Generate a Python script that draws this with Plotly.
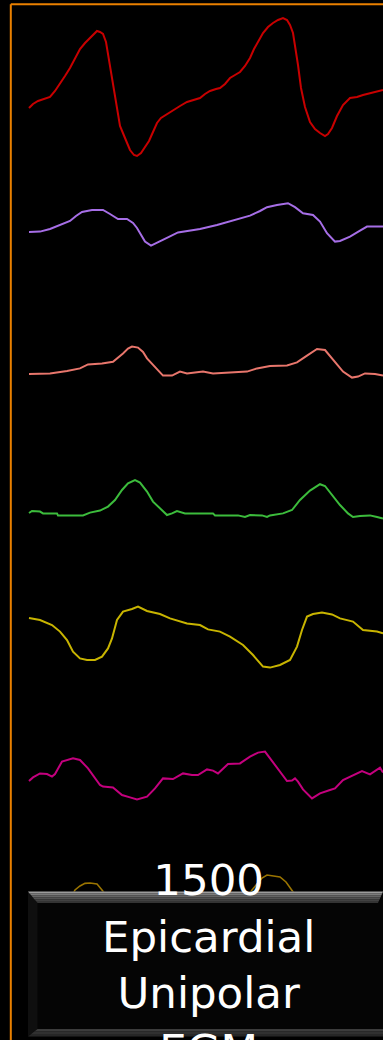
import plotly.graph_objects as go

# Epicardial unipolar electrograms: seven channels, time in ms, amplitude in mV
ch1_t = [0, 8, 18, 28, 42, 52, 62, 72, 82, 92, 102, 112, 122, 130, 136, 142, 148, 154, 162, 172,
         182, 192, 202, 210, 216, 224, 232, 240, 248, 256, 264, 276, 288, 302, 316, 330, 342, 352,
         362, 374, 382, 392, 402, 412, 422, 432, 442, 450, 458, 468, 478, 488, 498, 508, 516, 522,
         528, 534, 538, 544, 552, 562, 572, 582, 592, 598, 606, 616, 628, 642, 656, 668, 682, 696, 708]
ch1_v = [0, 0.2, 0.35, 0.45, 0.55, 0.85, 1.2, 1.6, 2.0, 2.45, 2.95, 3.25, 3.5, 3.75, 3.85, 3.8, 3.7,
         3.3, 2.05, 0.55, -0.9, -1.5, -2.1, -2.35, -2.4, -2.25, -1.95, -1.65, -1.2, -0.75, -0.5, -0.3,
         -0.1, 0.1, 0.3, 0.4, 0.5, 0.7, 0.85, 0.95, 1.0, 1.2, 1.5, 1.65, 1.8, 2.1, 2.5, 2.95, 3.3,
         3.75, 4.05, 4.25, 4.4, 4.5, 4.4, 4.15, 3.75, 2.9, 2.15, 1.0, 0.05, -0.7, -1.05, -1.25, -1.4,
         -1.3, -1.0, -0.4, 0.15, 0.5, 0.55, 0.65, 0.75, 0.85, 0.9]

ch2_t = [0, 22, 42, 62, 82, 94, 106, 126, 148, 162, 178, 196, 208, 216, 224, 232, 244, 262, 282,
         298, 322, 342, 376, 408, 442, 462, 476, 496, 518, 532, 548, 568, 582, 596, 612, 622, 642,
         662, 676, 708]
ch2_v = [0, 0.02, 0.15, 0.35, 0.55, 0.8, 1.0, 1.1, 1.1, 0.9, 0.65, 0.65, 0.45, 0.2, -0.15, -0.48,
         -0.68, -0.48, -0.22, -0.02, 0.07, 0.15, 0.35, 0.57, 0.82, 1.05, 1.24, 1.35, 1.44, 1.24,
         0.94, 0.85, 0.52, -0.06, -0.48, -0.45, -0.23, 0.07, 0.27, 0.27]

ch3_t = [0, 42, 76, 102, 118, 146, 168, 178, 188, 198, 206, 218, 228, 236, 246, 256, 268, 286,
         302, 316, 348, 368, 402, 436, 456, 482, 516, 536, 556, 566, 576, 592, 608, 618, 628, 646,
         658, 672, 692, 708]
ch3_v = [0, 0.03, 0.15, 0.28, 0.48, 0.53, 0.61, 0.8, 1.03, 1.27, 1.37, 1.32, 1.1, 0.78, 0.5, 0.25,
         -0.08, -0.08, 0.12, 0.03, 0.12, 0.03, 0.08, 0.12, 0.28, 0.4, 0.43, 0.58, 0.92, 1.1, 1.25,
         1.2, 0.7, 0.4, 0.12, -0.18, -0.13, 0.03, 0, -0.08]

ch4_t = [0, 6, 22, 28, 56, 58, 108, 122, 142, 158, 172, 186, 198, 212, 222, 236, 248, 262, 276,
         286, 296, 312, 368, 372, 418, 432, 442, 466, 476, 482, 508, 526, 542, 562, 582, 592, 606,
         622, 638, 648, 662, 682, 696, 708]
ch4_v = [0, 0.1, 0.07, -0.02, -0.02, -0.12, -0.12, 0.02, 0.12, 0.32, 0.65, 1.15, 1.48, 1.64, 1.52,
         1.07, 0.57, 0.24, -0.1, -0.02, 0.1, -0.02, -0.02, -0.12, -0.12, -0.2, -0.1, -0.12, -0.2,
         -0.12, -0.02, 0.15, 0.65, 1.12, 1.44, 1.35, 0.9, 0.4, -0.02, -0.2, -0.15, -0.12, -0.2, -0.28]

ch5_t = [0, 22, 46, 62, 76, 88, 102, 116, 132, 146, 158, 166, 176, 188, 206, 218, 236, 262, 282,
         316, 342, 358, 382, 402, 428, 448, 468, 482, 502, 522, 536, 546, 556, 568, 586, 606, 622,
         648, 668, 696, 708]
ch5_v = [0, -0.1, -0.35, -0.68, -1.1, -1.68, -2.02, -2.1, -2.1, -1.93, -1.52, -1.02, -0.1, 0.32,
         0.45, 0.57, 0.35, 0.2, -0.02, -0.27, -0.35, -0.57, -0.68, -0.93, -1.35, -1.85, -2.43,
         -2.48, -2.35, -2.1, -1.43, -0.6, 0.07, 0.2, 0.28, 0.18, -0.02, -0.18, -0.6, -0.68, -0.77]

ch6_t = [0, 8, 22, 36, 46, 52, 66, 88, 102, 118, 142, 148, 168, 186, 202, 216, 236, 252, 268, 288,
         308, 326, 338, 356, 368, 378, 398, 422, 442, 458, 472, 482, 498, 516, 526, 532, 538, 548,
         566, 582, 602, 612, 628, 648, 666, 682, 702, 708]
ch6_v = [0, 0.18, 0.38, 0.35, 0.22, 0.35, 0.97, 1.13, 1.05, 0.63, -0.2, -0.28, -0.32, -0.7, -0.82,
         -0.92, -0.78, -0.37, 0.13, 0.1, 0.38, 0.3, 0.3, 0.58, 0.52, 0.38, 0.85, 0.88, 1.22, 1.42,
         1.47, 1.13, 0.55, 0, 0.02, 0.13, -0.03, -0.42, -0.87, -0.62, -0.45, -0.37, 0.05, 0.3, 0.5,
         0.33, 0.67, 0.42]

ch7_t = [0, 40, 80, 92, 102, 112, 122, 136, 146, 158, 200, 300, 400, 438, 446, 456, 466, 476, 488,
         502, 514, 524, 534, 600, 708]
ch7_v = [-0.4, -0.3, -0.1, 0.5, 0.7, 0.83, 0.85, 0.8, 0.5, 0.1, -0.4, -0.6, -0.5, 0.2, 0.5, 0.8,
         1.1, 1.25, 1.22, 1.15, 0.9, 0.55, 0.2, -0.5, -0.3]

channels = [
    (ch1_t, ch1_v), (ch2_t, ch2_v), (ch3_t, ch3_v), (ch4_t, ch4_v),
    (ch5_t, ch5_v), (ch6_t, ch6_v), (ch7_t, ch7_v),
]

# vertical placement of each channel's baseline (mV) and its colour
offsets = [-5.4, -11.6, -18.7, -25.65, -30.9, -39.05, -45.0]
colors = ["#c80000", "#a66ee6", "#e8766c", "#3cbc3c", "#c8b400", "#c4007e", "#9a7400"]
widths = [2, 2, 2, 2, 2, 2, 1.6]

caption = "1500<br>Epicardial<br>Unipolar<br>EGM"

W, H = 383, 1040


def px(x):
    return x / W


def py(y):
    return 1 - y / H


fig = go.Figure()
for (t, v), off, c, w in zip(channels, offsets, colors, widths):
    fig.add_trace(go.Scatter(
        x=t, y=[off + a for a in v], mode="lines",
        line=dict(color=c, width=w), hoverinfo="skip", showlegend=False,
    ))

shapes = []
# orange frame along the top and left edge
shapes.append(dict(type="line", xref="paper", yref="paper", x0=px(10.8), x1=px(383),
                   y0=py(4.3), y1=py(4.3), line=dict(color="#ea8000", width=2), layer="above"))
shapes.append(dict(type="line", xref="paper", yref="paper", x0=px(10.8), x1=px(10.8),
                   y0=py(4.3), y1=py(1040), line=dict(color="#ea8000", width=2), layer="above"))


def poly(pts, fill):
    d = "M " + " L ".join(f"{px(x):.5f},{py(y):.5f}" for x, y in pts) + " Z"
    return dict(type="path", xref="paper", yref="paper", path=d, fillcolor=fill,
                line=dict(width=0), layer="above")


# caption panel: dark face with bevelled edges
box_top, box_bot, box_l, box_r = 891.5, 1036.5, 28.0, 383.0
bev_t, bev_b, bev_side = 11.5, 7.5, 9.5
shapes.append(poly([(box_l, box_top), (box_r, box_top), (box_r, box_bot), (box_l, box_bot)], "#050505"))
shapes.append(poly([(box_l, box_top), (box_l + bev_side, box_top + bev_t),
                    (box_l + bev_side, box_bot - bev_b), (box_l, box_bot)], "#0f0f0f"))
top_cols = ["#9c9c9c", "#7c7c7c", "#646464", "#515151", "#424242", "#343434"]
n = len(top_cols)
for i, col in enumerate(top_cols):
    y0 = box_top + bev_t * i / n
    y1 = box_top + bev_t * (i + 1) / n
    f0, f1 = (y0 - box_top) / bev_t, (y1 - box_top) / bev_t
    shapes.append(poly([(box_l + bev_side * f0, y0), (box_r - 5 * f0, y0),
                        (box_r - 5 * f1, y1), (box_l + bev_side * f1, y1)], col))
bot_cols = ["#3c3c3c", "#303030", "#262626"]
m = len(bot_cols)
for i, col in enumerate(bot_cols):
    y0 = box_bot - bev_b + bev_b * i / m
    y1 = box_bot - bev_b + bev_b * (i + 1) / m
    f0, f1 = 1 - (y0 - (box_bot - bev_b)) / bev_b, 1 - (y1 - (box_bot - bev_b)) / bev_b
    shapes.append(poly([(box_l + bev_side * f0, y0), (box_r, y0),
                        (box_r, y1), (box_l + bev_side * f1, y1)], col))

fig.update_layout(
    width=W, height=H,
    margin=dict(l=0, r=0, t=0, b=0),
    paper_bgcolor="black", plot_bgcolor="black",
    xaxis=dict(range=[-58, 708], visible=False, fixedrange=True),
    yaxis=dict(range=[-52, 0], visible=False, fixedrange=True),
    shapes=shapes,
    annotations=[dict(
        text=caption, xref="paper", yref="paper", x=px(208), y=py(853),
        xanchor="center", yanchor="top", showarrow=False, align="center",
        font=dict(family="DejaVu Sans", size=43.5, color="white"),
    )],
)

fig.write_html("out.html")
